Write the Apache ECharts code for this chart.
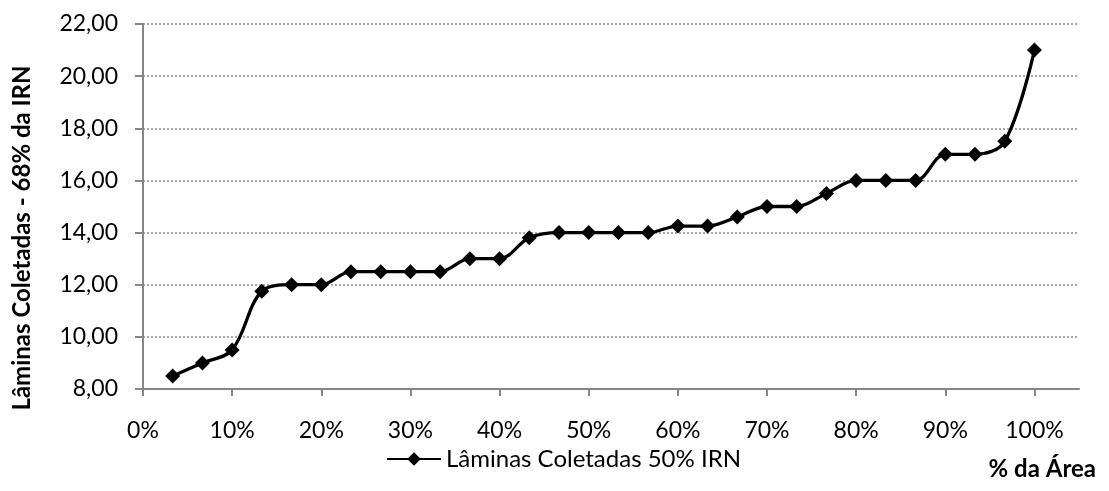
<!DOCTYPE html>
<html>
<head>
<meta charset="utf-8">
<script src="https://cdn.jsdelivr.net/npm/echarts@6/dist/echarts.min.js"></script>
<style>
  html, body { margin: 0; padding: 0; background: #fff; }
  #chart { width: 1109px; height: 491px; }
</style>
</head>
<body>
<div id="chart"></div>
<script>
// Percentage of area (x) and collected depth (y)
const areaPct = [3.33, 6.67, 10, 13.33, 16.67, 20, 23.33, 26.67, 30, 33.33,
                 36.67, 40, 43.33, 46.67, 50, 53.33, 56.67, 60, 63.33, 66.67,
                 70, 73.33, 76.67, 80, 83.33, 86.67, 90, 93.33, 96.67, 100];
const laminas = [8.5, 9.0, 9.5, 11.75, 12.0, 12.0, 12.5, 12.5, 12.5, 12.5,
                 13.0, 13.0, 13.8, 14.0, 14.0, 14.0, 14.0, 14.25, 14.25, 14.6,
                 15.0, 15.0, 15.5, 16.0, 16.0, 16.0, 17.0, 17.0, 17.5, 21.0];
const xTicks = [0, 10, 20, 30, 40, 50, 60, 70, 80, 90, 100];
const seriesName = 'Lâminas Coletadas 50% IRN';
const yTitle = 'Lâminas Coletadas - 68% da IRN';
const xTitle = '% da Área';

const FONT = 'Lato, "Open Sans", sans-serif';
const AXIS_GREY = '#868686';

const chart = echarts.init(document.getElementById('chart'), null, { renderer: 'canvas' });
chart.setOption({
  animation: false,
  backgroundColor: '#ffffff',
  grid: { left: 143, right: 30, top: 24, bottom: 102, containLabel: false },
  legend: {
    left: 381, top: 442,
    itemWidth: 54, itemHeight: 17, itemGap: 4,
    textStyle: { fontFamily: FONT, fontSize: 24, color: '#000', padding: [0, 0, 0, 0] },
    data: [seriesName]
  },
  xAxis: {
    type: 'value', min: 0, max: 105,
    axisLine: { lineStyle: { color: AXIS_GREY, width: 2 } },
    axisTick: { show: true, customValues: xTicks, length: 7, lineStyle: { color: AXIS_GREY, width: 2 } },
    axisLabel: {
      customValues: xTicks, margin: 30,
      fontFamily: FONT, fontSize: 23, color: '#000',
      formatter: v => v + '%'
    },
    splitLine: { show: false }
  },
  yAxis: {
    type: 'value', min: 8, max: 22, interval: 2,
    axisLine: { show: true, lineStyle: { color: AXIS_GREY, width: 2 } },
    axisTick: { show: true, length: 8, lineStyle: { color: AXIS_GREY, width: 2 } },
    axisLabel: {
      margin: 25, fontFamily: FONT, fontSize: 23, color: '#000',
      formatter: v => v.toFixed(2).replace('.', ',')
    },
    splitLine: { show: true, lineStyle: { color: '#8c8c8c', type: [2, 2], width: 1.5 } }
  },
  graphic: [
    {
      type: 'text', x: 22, y: 238, rotation: Math.PI / 2,
      style: {
        text: yTitle, fontFamily: FONT, fontSize: 24, fontWeight: 'bold',
        fill: '#000', align: 'center', verticalAlign: 'middle'
      }
    },
    {
      type: 'text', right: 13, top: 457,
      style: { text: xTitle, fontFamily: FONT, fontSize: 24, fontWeight: 'bold', fill: '#000' }
    }
  ],
  series: [{
    name: seriesName,
    type: 'line',
    data: areaPct.map((x, i) => [x, laminas[i]]),
    smooth: 0.35,
    symbol: 'diamond', symbolSize: 15,
    lineStyle: { color: '#000', width: 3.3 },
    itemStyle: { color: '#000' }
  }]
});
</script>
</body>
</html>
